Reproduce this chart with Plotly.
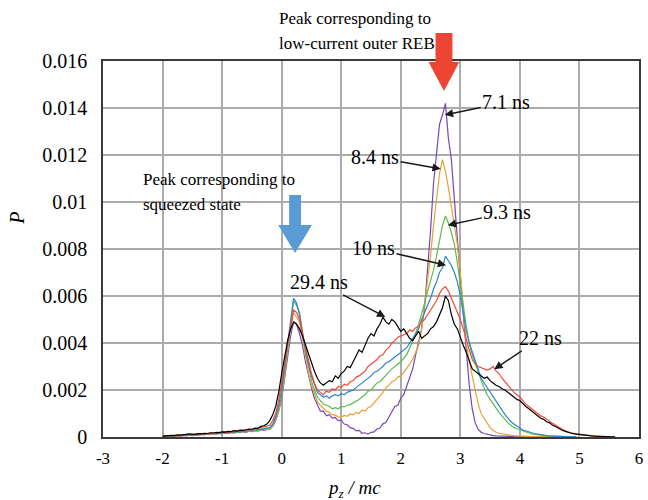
import numpy as np
import plotly.graph_objects as go

# momentum grid p_z/mc, step 0.05 from -2.0 to 5.6
pz = [round(-2.0 + 0.05 * i, 2) for i in range(153)]

# probability values in units of 1e-4; each row covers one unit of p_z (20 samples)
p_7_1ns = (
    [0.2,0.4,0.2,0.5,0.3,0.6,0.4,0.7,0.5,0.8,0.6,0.9,0.8,1.1,0.9,1.2,1.0,1.4,1.2,1.5] +
    [1.3,1.7,1.5,1.9,1.7,2.1,1.9,2.3,2.0,2.5,2.3,2.7,2.5,3.0,2.8,3.2,3.4,4.5,7,11] +
    [16,25,34,43,49,48,44,39,32,26,21,16.5,14,11,11,9,9.5,8,8.3,7] +
    [7.2,5.5,5.2,4,3.7,2.6,2.8,1.6,1.8,1.2,2,2.2,3.4,3.8,5.6,6.2,8.5,10.5,13,13.5] +
    [16.5,18,21.5,25,29,35,40,46,55,70,88,108,121,133,137,142,127,118,101,86] +
    [68,52,35,22,12,6,3.2,2,1.5,1.1,0.8,0.6,0.5,0.4,0.3,0.25,0.2,0.15,0.1,0.1] +
    [0.08,0.06,0.05,0.04,0.03,0.03,0.02,0.02,0.01,0.01,0.01]
)
p_8_4ns = (
    [0.2,0.4,0.3,0.5,0.4,0.5,0.5,0.7,0.6,0.8,0.8,1.0,0.9,1.1,1.0,1.3,1.2,1.4,1.3,1.5] +
    [1.5,1.8,1.6,2.0,1.8,2.1,2.0,2.4,2.2,2.6,2.5,2.9,2.7,3.1,3.0,3.3,3.2,4.6,7.5,11.5] +
    [17,27,36,46,53,51,49,42,34,27,22,18,15,13.5,12,11,10.5,9.5,9.3,8.6] +
    [8.5,9.2,8.8,9.8,9.4,10.5,10,11.5,11,12.5,13,14.5,16,17.5,19,21,22,23.5,24,25.5] +
    [26,27.5,29,31,33,36,39,46,56,65,77,90,100,112,118,113,106,98,90,82] +
    [70,56,40,32,26,19,14,10,8,5.5,4,2.8,2,1.6,1.3,1.1,0.9,0.7,0.6,0.5] +
    [0.4,0.35,0.3,0.25,0.2,0.17,0.15,0.12,0.1,0.1,0.08,0.06,0.05,0.04,0.03,0.03,0.02,0.02,0.01,0.01]
)
p_9_3ns = (
    [0.2,0.4,0.3,0.5,0.5,0.6,0.5,0.8,0.7,0.9,0.8,1.1,1.0,1.2,1.1,1.3,1.2,1.5,1.4,1.6] +
    [1.6,1.9,1.7,2.1,1.9,2.2,2.1,2.5,2.3,2.8,2.6,3.0,2.9,3.4,3.3,3.6,3.4,5,8,12] +
    [18,28,38,49,58,56,53,45,36,30,24,20,17,15.5,14,13.5,13,12,12.5,12] +
    [13,12.8,13.5,13.8,14.5,15.5,16,17,18,19.5,20,21.5,23,23.5,25,26.5,28,29,30,31] +
    [32,33.5,35,38,41,44,48,52,57,62,66,71,77,84,90,94,91,87,82,74] +
    [66,56,47,40,35,31,28,24,21,18,16,14,12,10.5,9,7.5,6,5,4,3.5] +
    [3,2.5,2,1.6,1.3,1.1,0.9,0.7,0.6,0.5,0.4,0.35,0.3,0.25,0.2,0.15,0.1,0.1,0.08,0.05]
)
p_10ns = (
    [0.3,0.4,0.3,0.6,0.5,0.7,0.6,0.8,0.7,1.0,0.9,1.1,1.0,1.3,1.2,1.4,1.3,1.6,1.5,1.7] +
    [1.6,2.0,1.8,2.2,2.0,2.4,2.2,2.6,2.4,2.9,2.8,3.2,3.1,3.5,3.6,3.9,4,5.5,9,13.5] +
    [20,30,40,51,59,57,52,44,37,31,26,22,19,18,17,17.5,16.5,17.5,18,17.5] +
    [18.5,18,19,19.5,20,21,22,23,24,25,26,27.5,28,29,30,31.5,32,33,34,35] +
    [36,37,38,40,42,44,46,50,53,56,59,63,66,70,72,77,75,73,70,66] +
    [60,52,45,40,36,32,28,25,23,21,19,17,15,13,11,9.5,8,6.5,5.5,4.5] +
    [3.8,3,2.5,2.1,1.8,1.5,1.2,1,0.8,0.6,0.5,0.4,0.3,0.25,0.2,0.15,0.1,0.1,0.08,0.05]
)
p_22ns = (
    [0.3,0.5,0.4,0.6,0.7,0.6,0.6,0.9,0.8,1.0,1.0,1.2,1.3,1.1,1.2,1.5,1.5,1.8,1.7,1.9] +
    [1.9,2.2,1.8,2.3,2.2,2.6,2.5,2.8,2.6,3.2,3.1,3.4,3.5,3.9,4.3,4.6,5,7,10,15.5] +
    [23,31,40,48,54,53,50,44,38,32,27,23,20,19,18,19.5,19,20.5,20,21.5] +
    [21,22.5,22,23.5,24,25.5,26,27,28,30,31,32,33,34.5,35,37,38,40,41,42.5] +
    [43,43.5,44,45.5,45,46.5,47,49,50,52,54,56,58,61,63,64,62,59,56,53] +
    [50,46,41,37,33,31,30,29.5,29,28.5,29,30,28,27,25,23.5,22,20.5,19,18] +
    [17,15.5,14,13,12,11,10,9,8.5,7.5,6.5,5.8,5,4.2,3.5,2.8,2.2,1.8,1.5,1.2] +
    [1,0.85,0.7,0.6,0.5,0.4,0.3,0.25,0.2,0.17,0.15,0.12,0.1]
)
p_29_4ns = (
    [0.4,0.6,0.5,0.7,0.6,0.9,0.8,1.0,0.9,1.3,1.2,1.1,1.4,1.3,1.6,1.5,1.8,1.7,2.0,1.9] +
    [2.2,2.1,2.4,2.3,2.7,2.5,2.9,2.8,3.1,3.4,3.3,3.8,3.7,4.5,4.8,5.5,7,9.5,13,19] +
    [27,34,41,46,49,48,46,43,39,35,31,28,25,23,22,23,24,23.5,26,25] +
    [27,28,30,29.5,32,34,37,36,39,42,44,43,46,48,51,49,48,50,49,47] +
    [45,46,44,42,41,43,45,42,43,44,46,47,49,52,55,60,58,52,48,46] +
    [42,39,36,32,29,28,27,26,25,25.5,24,23,22,21.5,20.5,20,19,18,17,16] +
    [15.5,14,13,12,11,10,9,8,7.5,6.5,6,5,4.5,3.7,3,2.5,2,1.7,1.4,1.2] +
    [1,0.8,0.7,0.55,0.5,0.4,0.3,0.25,0.2,0.15,0.15,0.1,0.1]
)

series_names = ["7.1 ns", "8.4 ns", "9.3 ns", "10 ns", "22 ns", "29.4 ns"]
series_vals = [p_7_1ns, p_8_4ns, p_9_3ns, p_10ns, p_22ns, p_29_4ns]
series_colors = ["#7547B5", "#E9A035", "#5CBB4F", "#2A84CF", "#F2483A", "#000000"]

x_tickvals = [-3, -2, -1, 0, 1, 2, 3, 4, 5, 6]
x_ticktext = ["-3", "-2", "-1", "0", "1", "2", "3", "4", "5", "6"]
y_tickvals = [0, 0.002, 0.004, 0.006, 0.008, 0.01, 0.012, 0.014, 0.016]
y_ticktext = ["0", "0.002", "0.004", "0.006", "0.008", "0.01", "0.012", "0.014", "0.016"]

# label text, label centre (x, P), arrow head (x, P)
labels = [
    ("7.1 ns", 3.77, 0.01424, 2.74, 0.01371),
    ("8.4 ns", 1.57, 0.0119, 2.67, 0.01141),
    ("9.3 ns", 3.79, 0.00956, 2.79, 0.00901),
    ("10 ns", 1.54, 0.00803, 2.76, 0.00731),
    ("29.4 ns", 0.63, 0.00658, 1.74, 0.00511),
    ("22 ns", 4.34, 0.0042, 3.57, 0.00288),
]

FONT = "Liberation Serif"
W, H = 648, 500
L, R, T, B = 103, 5, 61, 63

fig = go.Figure()
for name, vals, col in zip(series_names, series_vals, series_colors):
    fig.add_trace(go.Scatter(x=pz[:len(vals)], y=np.array(vals) * 1e-4, mode="lines", name=name,
                             line=dict(color=col, width=1.2), showlegend=False))

def px(xp):
    return (xp - L) / (W - L - R)

def py(yp):
    return (H - B - yp) / (H - T - B)

def arrow_path(xc, top, head_top, tip, shaft_hw, head_hw):
    pts = [(xc - shaft_hw, top), (xc + shaft_hw, top), (xc + shaft_hw, head_top),
           (xc + head_hw, head_top), (xc, tip), (xc - head_hw, head_top),
           (xc - shaft_hw, head_top)]
    return "M " + " L ".join(f"{px(a):.5f},{py(b):.5f}" for a, b in pts) + " Z"

shapes = [
    dict(type="path", xref="paper", yref="paper", path=arrow_path(446.5, 33, 62, 91, 8.5, 15.5),
         fillcolor="#EE4433", line=dict(width=0)),
    dict(type="path", xref="paper", yref="paper", path=arrow_path(296.5, 195, 225, 253, 6, 17),
         fillcolor="#5B9BD5", line=dict(width=0)),
]

annotations = []
for text, tx, ty, hx, hy in labels:
    annotations.append(dict(x=hx, y=hy, xref="x", yref="y", ax=tx, ay=ty, axref="x", ayref="y",
                            text=text, showarrow=True, arrowhead=2, arrowsize=1.1, arrowwidth=1.5,
                            arrowcolor="#1a1a1a", font=dict(family=FONT, size=20, color="black")))

for text, xl, yl in [("Peak corresponding to", 278, 18), ("low-current outer REB", 278, 43),
                     ("Peak corresponding to", 141, 179), ("squeezed state", 141, 204)]:
    annotations.append(dict(x=px(xl), y=py(yl), xref="paper", yref="paper", xanchor="left",
                            yanchor="middle", text=text, showarrow=False,
                            font=dict(family=FONT, size=17, color="black")))

annotations.append(dict(x=px(356), y=py(489), xref="paper", yref="paper", xanchor="center",
                        yanchor="middle", showarrow=False,
                        text="<i>p</i><sub><i>z</i></sub><i> / mc</i>",
                        font=dict(family=FONT, size=19, color="black")))
annotations.append(dict(x=px(16), y=py(218), xref="paper", yref="paper", xanchor="center",
                        yanchor="middle", showarrow=False, textangle=-90, text="<i>P</i>",
                        font=dict(family=FONT, size=20, color="black")))

fig.update_layout(
    width=W, height=H, margin=dict(l=L, r=R, t=T, b=B),
    paper_bgcolor="white", plot_bgcolor="white",
    font=dict(family=FONT, color="black"),
    shapes=shapes, annotations=annotations,
    xaxis=dict(range=[-3, 6], tickvals=x_tickvals, ticktext=x_ticktext,
               showgrid=True, gridcolor="#ABABAB", gridwidth=1.5, zeroline=False,
               showline=True, linecolor="#3a3a3a", linewidth=1.5, mirror=True,
               ticks="", ticklabelstandoff=5,
               tickfont=dict(family=FONT, size=17, color="black")),
    yaxis=dict(range=[0, 0.016], tickvals=y_tickvals, ticktext=y_ticktext,
               showgrid=True, gridcolor="#ABABAB", gridwidth=1.5, zeroline=False,
               showline=True, linecolor="#3a3a3a", linewidth=1.5, mirror=True,
               ticks="", ticklabelstandoff=10,
               tickfont=dict(family=FONT, size=20, color="black")),
)

fig.write_html("out.html")
